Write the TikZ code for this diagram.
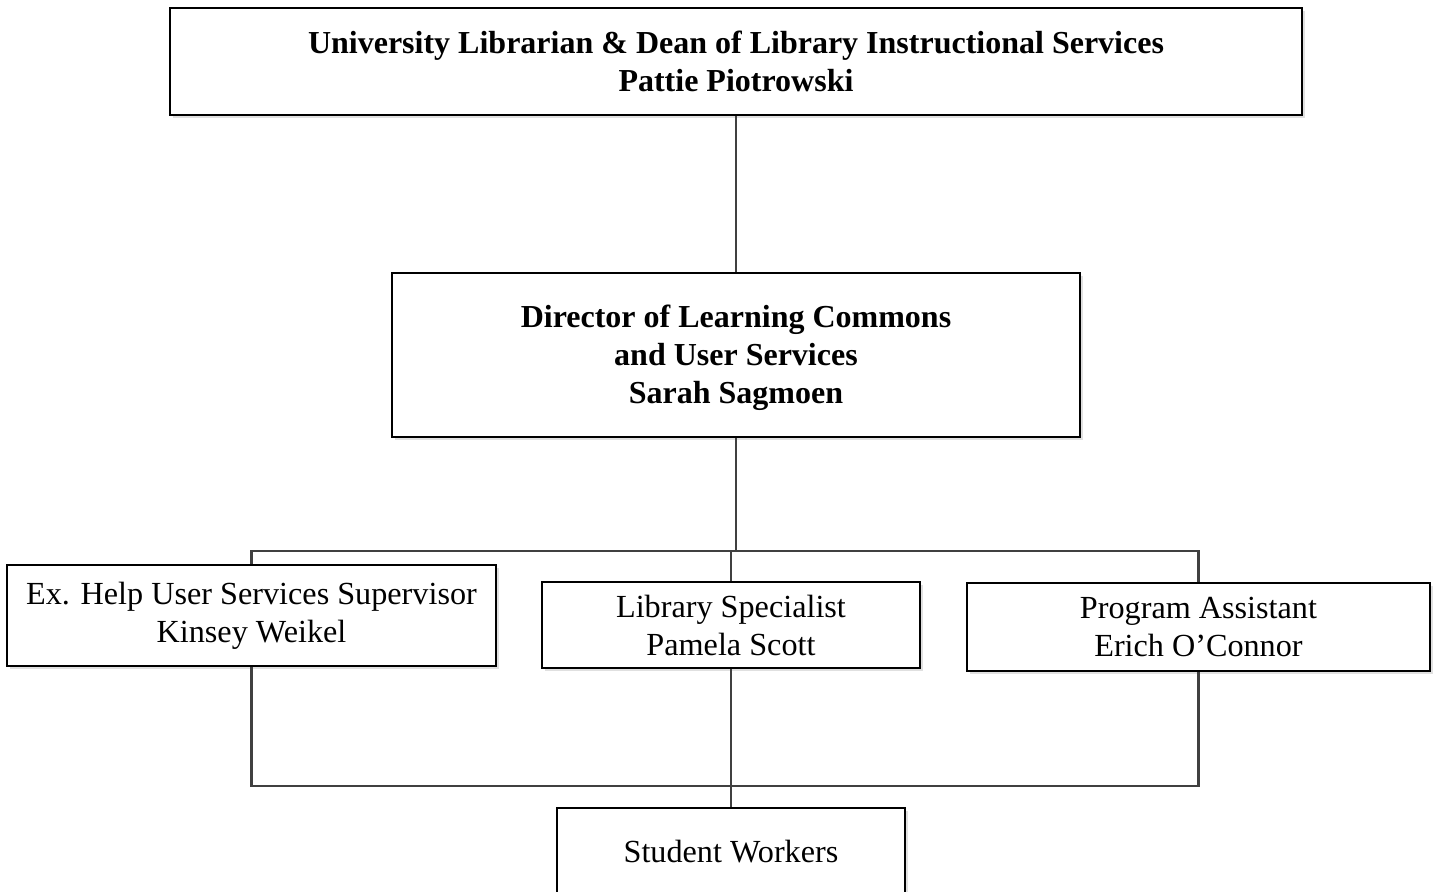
\documentclass[tikz,border=0pt]{standalone}
\usepackage{fontspec}
\setmainfont{Liberation Serif}
\usetikzlibrary{shadows}

\tikzset{
  box/.style={draw=black, line width=1.2pt, fill=white, align=center, inner sep=0pt,
    font=\fontsize{16.1}{19}\selectfont,
    drop shadow={shadow xshift=1.5pt, shadow yshift=-1.5pt, fill=black!12, opacity=1}},
  bossbox/.style={box, font=\fontsize{16}{19}\selectfont\bfseries},
  link/.style={draw=black!75, line width=1.1pt}
}

\begin{document}
\begin{tikzpicture}[x=0.5pt,y=-0.5pt]
    \useasboundingbox (0,0) rectangle (1437,892);

    % the boxes
    \node[bossbox, minimum width=566pt, minimum height=53.5pt] (univ) at (736,61.5)
        {University Librarian \& Dean of Library Instructional Services\\Pattie Piotrowski};
    \node[bossbox, minimum width=344pt, minimum height=82pt] (director) at (736,355)
        {\rule{0pt}{14pt}Director of Learning Commons\\and User Services\\Sarah Sagmoen};

    \node[box, minimum width=244.5pt, minimum height=50.5pt] (exhelp) at (251.5,615.5)
        {Ex. Help User Services Supervisor\\Kinsey Weikel};
    \node[box, minimum width=189pt, minimum height=43pt] (libspec) at (731,625)
        {Library Specialist\\Pamela Scott};
    \node[box, minimum width=231.5pt, minimum height=44pt] (program) at (1198.5,627)
        {Program Assistant\\Erich O'Connor};

    \node[box, minimum width=174pt, minimum height=44pt] (students) at (731,852)
        {Student Workers};

    % connectors
    \coordinate (split) at (736,551);
    \coordinate (join) at (731,786);

    \draw[link] (univ) -- (director);
    \draw[link] (director.south) -- (split);
    \draw[link] (exhelp.north) |- (split) -| (program.north);
    \draw[link] (libspec.north) -- (libspec.north |- split);

    \draw[link] (exhelp.south) |- (join) -| (program.south);
    \draw[link] (libspec.south) -- (students.north);
\end{tikzpicture}
\end{document}
